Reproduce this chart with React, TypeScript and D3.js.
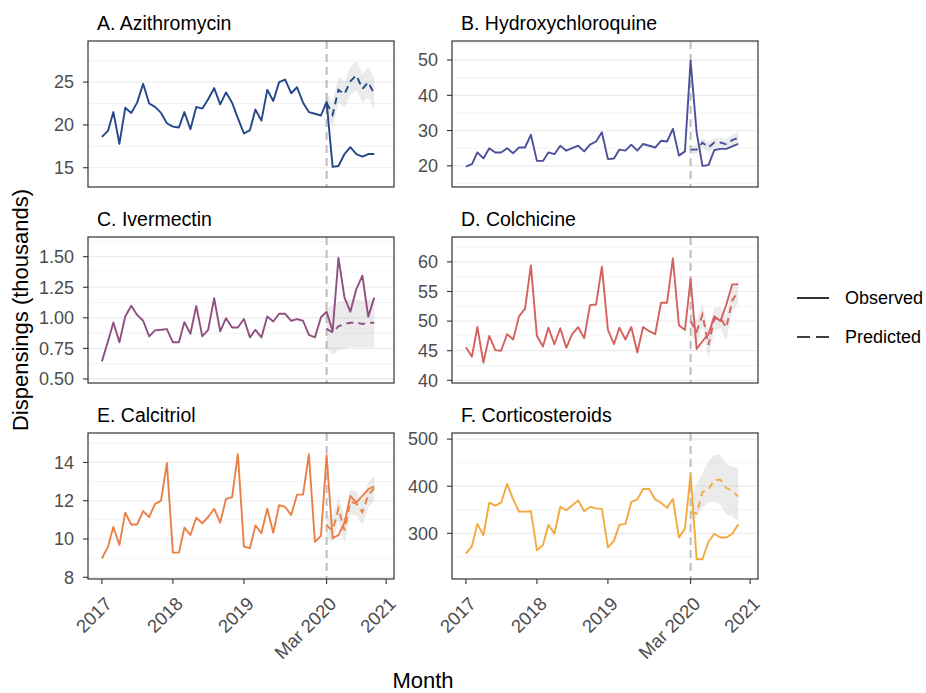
import * as d3 from "d3"

// monthly dispensings (thousands), Jan 2017 .. Nov 2020
const months = d3.timeMonth.range(new Date(2017, 0, 1), new Date(2020, 11, 2))
const predMonths = months.slice(38) // Mar 2020 onwards

const names = ["A. Azithromycin", "B. Hydroxychloroquine", "C. Ivermectin", "D. Colchicine", "E. Calcitriol", "F. Corticosteroids"]

const azithroObs = [18.6, 19.3, 21.5, 17.8, 22.0, 21.4, 22.6, 24.8, 22.5, 22.1, 21.4, 20.2, 19.8, 19.7, 21.5, 19.5, 22.1, 21.9, 23.0, 24.3, 22.4, 23.8, 22.6, 20.8, 19.0, 19.4, 21.8, 20.5, 24.1, 22.8, 25.0, 25.3, 23.7, 24.4, 22.6, 21.5, 21.3, 21.1, 22.7, 15.1, 15.2, 16.6, 17.4, 16.6, 16.3, 16.6, 16.6]
const azithroPred = [22.6, 21.2, 24.1, 23.6, 25.1, 25.8, 24.2, 25.0, 23.6]
const azithroHi = [23.9, 22.6, 25.6, 25.1, 26.7, 27.5, 25.9, 26.8, 25.4]
const azithroLo = [21.3, 19.8, 22.6, 22.1, 23.5, 24.1, 22.5, 23.2, 21.8]

const hcqObs = [19.8, 20.5, 23.8, 22.1, 25.0, 23.8, 23.8, 25.0, 23.6, 25.2, 25.2, 28.8, 21.4, 21.4, 23.8, 23.3, 25.7, 24.3, 25.0, 25.7, 24.1, 26.0, 26.9, 29.5, 21.9, 22.1, 24.6, 24.3, 26.0, 24.3, 26.2, 25.7, 25.2, 27.1, 26.9, 30.5, 22.9, 24.1, 49.8, 29.5, 20.0, 20.2, 24.5, 24.8, 24.8, 25.5, 26.2]
const hcqPred = [24.6, 24.6, 26.6, 25.2, 26.6, 26.6, 26.1, 27.3, 28.0]
const hcqHi = [25.8, 25.9, 27.9, 26.6, 28.0, 28.0, 27.6, 28.8, 29.5]
const hcqLo = [23.4, 23.3, 25.3, 23.8, 25.2, 25.2, 24.6, 25.8, 26.5]

const iverObs = [0.644, 0.807, 0.962, 0.8, 1.011, 1.098, 1.024, 0.976, 0.848, 0.897, 0.902, 0.908, 0.8, 0.8, 0.965, 0.87, 1.098, 0.848, 0.902, 1.16, 0.889, 0.997, 0.921, 0.921, 0.99, 0.84, 0.902, 0.84, 1.011, 0.97, 1.033, 1.033, 0.976, 0.99, 0.976, 0.861, 0.84, 1.005, 1.05, 0.89, 1.49, 1.165, 1.05, 1.235, 1.345, 1.01, 1.165]
const iverPred = [0.91, 0.88, 0.93, 0.95, 0.96, 0.96, 0.95, 0.96, 0.96]
const iverHi = [1.08, 1.1, 1.13, 1.14, 1.15, 1.15, 1.14, 1.15, 1.15]
const iverLo = [0.75, 0.7, 0.73, 0.75, 0.76, 0.76, 0.76, 0.76, 0.76]

const colchObs = [45.6, 44.0, 49.0, 43.0, 47.5, 45.1, 45.0, 47.8, 46.9, 50.8, 52.1, 59.4, 47.5, 45.7, 48.9, 46.1, 48.8, 45.5, 47.8, 49.0, 47.1, 52.7, 52.8, 59.2, 48.5, 46.1, 48.9, 46.9, 49.0, 44.7, 49.0, 48.3, 47.8, 53.1, 53.1, 60.6, 49.3, 48.5, 57.1, 45.3, 46.6, 47.8, 50.8, 50.0, 52.8, 56.2, 56.2]
const colchPred = [50.0, 48.2, 51.1, 46.0, 50.4, 50.5, 48.9, 53.5, 55.0]
const colchHi = [51.8, 50.2, 53.0, 48.2, 52.3, 52.4, 51.0, 55.4, 57.0]
const colchLo = [48.2, 46.2, 49.2, 43.8, 48.5, 48.6, 46.8, 51.6, 53.0]

const calciObs = [8.98, 9.59, 10.63, 9.69, 11.37, 10.76, 10.76, 11.46, 11.15, 11.84, 12.01, 13.97, 9.29, 9.29, 10.59, 10.21, 11.11, 10.82, 11.15, 11.58, 10.85, 12.1, 12.18, 14.43, 9.61, 9.52, 10.71, 10.3, 11.58, 10.33, 11.77, 11.68, 11.25, 12.32, 12.32, 14.43, 9.85, 10.16, 14.38, 10.05, 10.2, 10.85, 12.25, 11.9, 12.25, 12.6, 12.75]
const calciPred = [10.7, 10.45, 11.6, 10.45, 11.95, 11.85, 11.4, 12.3, 12.65]
const calciHi = [11.3, 11.1, 12.25, 11.1, 12.6, 12.5, 12.05, 12.95, 13.3]
const calciLo = [10.1, 9.8, 10.95, 9.8, 11.3, 11.2, 10.75, 11.65, 12.0]

const cortiObs = [257, 273, 320, 296, 365, 359, 365, 405, 372, 346, 346, 347, 264, 275, 318, 299, 356, 349, 359, 370, 347, 356, 353, 352, 270, 284, 318, 320, 366, 372, 394, 394, 372, 365, 354, 373, 291, 310, 425, 245, 245, 282, 299, 291, 291, 299, 319]
const cortiPred = [345, 342, 388, 393, 413, 414, 396, 390, 378]
const cortiHi = [372, 405, 428, 453, 467, 467, 446, 442, 439]
const cortiLo = [318, 337, 355, 365, 368, 361, 340, 337, 326]

const observed = [azithroObs, hcqObs, iverObs, colchObs, calciObs, cortiObs]
const predicted = [azithroPred, hcqPred, iverPred, colchPred, calciPred, cortiPred]
const upper = [azithroHi, hcqHi, iverHi, colchHi, calciHi, cortiHi]
const lower = [azithroLo, hcqLo, iverLo, colchLo, calciLo, cortiLo]

const yDomains = [[12.75, 29.8], [14, 55.4], [0.467, 1.661], [39.55, 64.2], [7.91, 15.54], [203, 513]]
const yTicks = [[15, 20, 25], [20, 30, 40, 50], [0.5, 0.75, 1.0, 1.25, 1.5], [40, 45, 50, 55, 60], [8, 10, 12, 14], [300, 400, 500]]
const yLabels = [["15", "20", "25"], ["20", "30", "40", "50"], ["0.50", "0.75", "1.00", "1.25", "1.50"], ["40", "45", "50", "55", "60"], ["8", "10", "12", "14"], ["300", "400", "500"]]

const xTicks = [new Date(2017, 0, 1), new Date(2018, 0, 1), new Date(2019, 0, 1), new Date(2020, 2, 1), new Date(2021, 0, 1)]
const xLabels = ["2017", "2018", "2019", "Mar 2020", "2021"]

const colors = ["#22488a", "#4c4f9b", "#8f4f80", "#d5615e", "#ea8046", "#f4a93f"]

const FONT = "'Liberation Sans', Arial, sans-serif"
const colX = [88, 452]
const rowY = [41, 237, 433]
const PW = 306
const PH = 146
const PAD = (PW * 0.05) / 1.1

const x = d3.scaleTime().domain([months[0], months[months.length - 1]]).range([PAD, PW - PAD])

const Panel = ({ i }: { i: number }) => {
    const left = colX[i % 2]
    const top = rowY[Math.floor(i / 2)]
    const bottomRow = i >= 4
    const y = d3.scaleLinear().domain(yDomains[i]).range([PH, 0])
    const ticks = yTicks[i]
    const step = ticks[1] - ticks[0]
    const minor: number[] = []
    for (let k = -1; k < ticks.length; k++) {
        const v = ticks[0] + step * (k + 0.5)
        if (v > yDomains[i][0] && v < yDomains[i][1]) minor.push(v)
    }

    const line = d3.line<number>().x((_, j) => x(months[j])).y((d) => y(d))
    const pline = d3.line<number>().x((_, j) => x(predMonths[j])).y((d) => y(d))
    const band = d3.area<number>()
        .x((_, j) => x(predMonths[j]))
        .y0((_, j) => y(lower[i][j]))
        .y1((d) => y(d))
    const vx = x(new Date(2020, 2, 1))

    return (
        <g transform={`translate(${left}, ${top})`}>
            <text x={9} y={-11} fontSize={19.5} fill="#000">{names[i]}</text>
            {minor.map((v) => (
                <line key={"m" + v} x1={0} x2={PW} y1={y(v)} y2={y(v)} stroke="#ebebeb" strokeWidth={0.6} />
            ))}
            {ticks.map((v) => (
                <line key={"g" + v} x1={0} x2={PW} y1={y(v)} y2={y(v)} stroke="#ebebeb" strokeWidth={1.2} />
            ))}
            <path d={band(upper[i]) as string} fill="#bdbdbd" fillOpacity={0.3} />
            <line x1={vx} x2={vx} y1={0} y2={PH} stroke="#bdbdbd" strokeWidth={2} strokeDasharray="8,5" />
            <path d={pline(predicted[i]) as string} fill="none" stroke={colors[i]} strokeWidth={1.9} strokeDasharray="7,5" />
            <path d={line(observed[i]) as string} fill="none" stroke={colors[i]} strokeWidth={1.9} strokeLinejoin="round" />
            <rect x={0} y={0} width={PW} height={PH} fill="none" stroke="#333333" strokeWidth={1.2} />
            {ticks.map((v, k) => (
                <g key={"t" + v}>
                    <line x1={-5} x2={0} y1={y(v)} y2={y(v)} stroke="#333333" strokeWidth={1.1} />
                    <text x={-14} y={y(v)} dy="0.35em" textAnchor="end" fontSize={18} fill="#4d4d4d">{yLabels[i][k]}</text>
                </g>
            ))}
            {bottomRow && xTicks.map((d, k) => (
                <g key={"x" + k}>
                    <line x1={x(d)} x2={x(d)} y1={PH} y2={PH + 5} stroke="#333333" strokeWidth={1.1} />
                    <text transform={`translate(${x(d) + 11}, ${PH + 26}) rotate(-45)`} textAnchor="end" fontSize={18.5} fill="#4d4d4d">{xLabels[k]}</text>
                </g>
            ))}
        </g>
    )
}

export default function App() {
    return (
        <svg width={926} height={693} style={{ position: "absolute", left: 0, top: 0, background: "#fff" }} fontFamily={FONT}>
            <rect width={926} height={693} fill="#fff" />
            {names.map((_, i) => <Panel key={i} i={i} />)}
            <text transform="translate(28, 310) rotate(-90)" textAnchor="middle" fontSize={22} fill="#000">Dispensings (thousands)</text>
            <text x={423} y={688} textAnchor="middle" fontSize={22} fill="#000">Month</text>
            <g>
                <line x1={797} x2={829} y1={298} y2={298} stroke="#000" strokeWidth={1.6} />
                <text x={845} y={298} dy="0.35em" fontSize={18}>Observed</text>
                <line x1={797} x2={829} y1={337} y2={337} stroke="#000" strokeWidth={1.6} strokeDasharray="13,6" />
                <text x={845} y={337} dy="0.35em" fontSize={18}>Predicted</text>
            </g>
        </svg>
    )
}
